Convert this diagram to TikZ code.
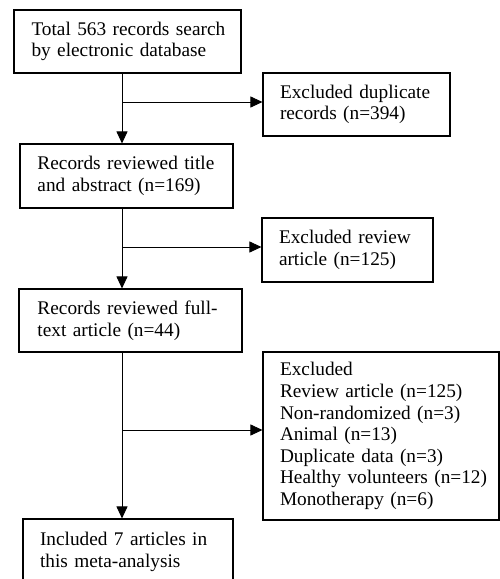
\documentclass[tikz,border=0pt]{standalone}
\usepackage{fontspec}
\setmainfont{Liberation Serif}
\usetikzlibrary{arrows.meta}
\newcommand{\jline}[2]{\makebox[#1][s]{#2}}
\tikzset{
  flowbox/.style={draw=black, line width=1.1pt, align=left, inner ysep=0pt,
    font=\fontsize{19.3}{21.6}\selectfont},
  conn/.style={line width=0.9pt, draw=black},
  arr/.style={conn, -{Triangle[length=12pt,width=11pt]}}
}
\begin{document}
\begin{tikzpicture}[x=1pt,y=-1pt]
\useasboundingbox (0,0) rectangle (500,579);
\clip (0,0) rectangle (500,579);
\node[flowbox, text width=192pt, inner xsep=17.5pt, minimum height=63pt] (b1) at (127.5,41.5)
  {\jline{192pt}{Total 563 records search}\\by electronic database};
\node[flowbox, text width=153pt, inner xsep=17pt, minimum height=63pt] (e1) at (356.5,104.5)
  {\jline{153pt}{Excluded duplicate}\\records (n=394)};
\node[flowbox, text width=178pt, inner xsep=17.5pt, minimum height=64pt] (b2) at (126.5,176)
  {\jline{178pt}{Records reviewed title}\\and abstract (n=169)};
\node[flowbox, text width=137pt, inner xsep=17pt, minimum height=64pt] (e2) at (347.5,250)
  {\jline{137pt}{Excluded review}\\article (n=125)};
\node[flowbox, text width=186pt, inner xsep=18.5pt, minimum height=63pt] (b3) at (130.5,320.5)
  {\jline{186pt}{Records reviewed full-}\\text article (n=44)};
\node[flowbox, text width=202pt, inner xsep=17pt, minimum height=168pt] (e3) at (381,436)
  {Excluded\\Review article (n=125)\\Non-randomized (n=3)\\Animal (n=13)\\Duplicate data (n=3)\\\jline{209pt}{Healthy volunteers (n=12)}\\Monotherapy (n=6)};
\node[flowbox, text width=176pt, inner xsep=17pt, minimum height=66pt] (b4) at (128,552)
  {\jline{176pt}{Included 7 articles in}\\this meta-analysis};
\coordinate (trunk) at (122,0);
\coordinate (j1) at (122,102);
\coordinate (j2) at (122,247);
\coordinate (j3) at (122,430);
\draw[arr] (b1.south -| trunk) -- (b2.north -| trunk);
\draw[arr] (j1) -- (e1.west |- j1);
\draw[arr] (b2.south -| trunk) -- (b3.north -| trunk);
\draw[arr] (j2) -- (e2.west |- j2);
\draw[arr] (b3.south -| trunk) -- (b4.north -| trunk);
\draw[arr] (j3) -- (e3.west |- j3);
\end{tikzpicture}
\end{document}
